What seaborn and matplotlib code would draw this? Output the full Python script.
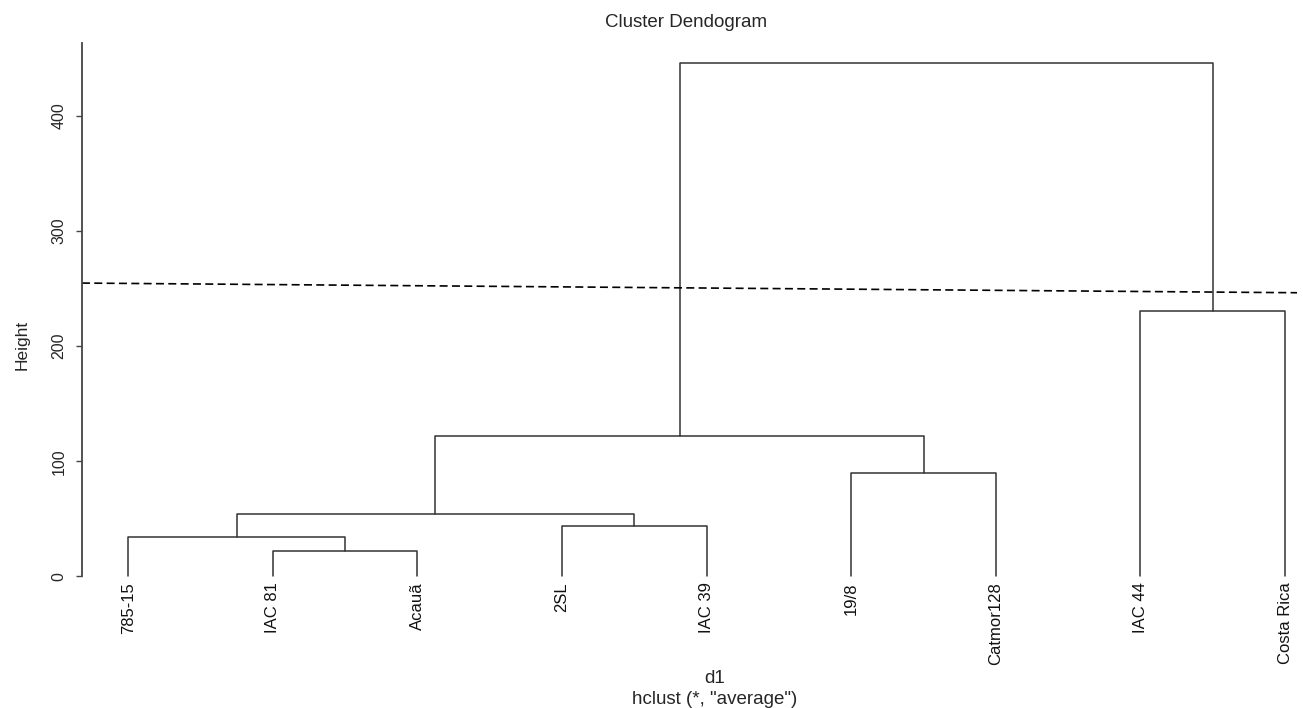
#!/usr/bin/env python
# coding: utf8

""" Cluster dendrogram (hclust, average linkage) redrawn with seaborn. """

import numpy as np
import pandas as pd
import seaborn as sns
from matplotlib import pyplot as plt

# leaves in plotting order
leaves = ['785-15', 'IAC 81', 'Acauã', '2SL', 'IAC 39',
          '19/8', 'Catmor128', 'IAC 44', 'Costa Rica']

# merge steps, R style: negative = leaf number, positive = earlier step
merge_left = [-2, -1, -4, 2, -6, 4, -8, 6]
merge_right = [-3, 1, -5, 3, -7, 5, -9, 7]
merge_height = [21.7, 34.1, 43.4, 54.0, 89.7, 122.1, 230.7, 445.3]

# dashed cut line (slightly tilted in the original)
cut_start, cut_end = 254.7, 246.3

y_ticks = [0, 100, 200, 300, 400]


def node_pos(k, done):
    if k < 0:
        return -k, 0.0
    return done[k - 1]


# build the U shaped segments
rows = []
done = []
for i, (a, b, h) in enumerate(zip(merge_left, merge_right, merge_height)):
    xa, ha = node_pos(a, done)
    xb, hb = node_pos(b, done)
    for x, y in [(xa, ha), (xa, h), (xb, h), (xb, hb)]:
        rows.append({'x': x, 'y': y, 'seg': i})
    done.append(((xa + xb) / 2, h))
seg_df = pd.DataFrame(rows)

sns.set_style('white')
plt.rcParams['font.family'] = ['Liberation Sans', 'DejaVu Sans']

fig = plt.figure(figsize=(13.03, 7.08), dpi=100)
ax = fig.add_axes([0.0629, 0.1568, 0.9325, 0.7825])

n = len(leaves)
pad_y = 0.04 * max(merge_height)
ax.set_xlim(1 - 0.04 * (n - 1), 9.083)
ax.set_ylim(-pad_y, max(merge_height) + pad_y)

sns.lineplot(data=seg_df, x='x', y='y', units='seg', estimator=None, sort=False,
             color='#333333', lw=1.1, ax=ax)

xl = ax.get_xlim()
cut_df = pd.DataFrame({'x': list(xl), 'y': [cut_start, cut_end]})
sns.lineplot(data=cut_df, x='x', y='y', color='black', lw=1.2,
             dashes=False, ax=ax)
ax.lines[-1].set_dashes((4.8, 2.6))

# leaf labels hanging below zero
for i, lab in enumerate(leaves):
    ax.annotate(lab, (i + 1, 0), xytext=(0, -4), textcoords='offset points',
                rotation=90, ha='center', va='top', fontsize=12, color='#111111')

for s in ['top', 'right', 'bottom']:
    ax.spines[s].set_visible(False)
ax.spines['left'].set_bounds(0, ax.get_ylim()[1])
ax.spines['left'].set_color('#444444')
ax.spines['left'].set_linewidth(1.3)

ax.set_xticks([])
ax.set_yticks(y_ticks)
ax.set_yticklabels([str(t) for t in y_ticks], rotation=90, va='center', fontsize=11.5)
ax.tick_params(axis='y', left=True, length=4, width=1, color='#444444', pad=7)
ax.set_xlabel('')
ax.set_ylabel('')

fig.text(22 / 1303, 1 - 345 / 708, 'Height', rotation=90, ha='center', va='center',
         fontsize=12.5)
fig.text(686 / 1303, 1 - 27 / 708, 'Cluster Dendogram', ha='center', va='baseline',
         fontsize=13.5)
fig.text(715 / 1303, 1 - 683 / 708, 'd1', ha='center', va='baseline', fontsize=13.5)
fig.text(715 / 1303, 1 - 704 / 708, 'hclust (*, "average")', ha='center', va='baseline',
         fontsize=13.5)

plt.savefig('out.png', dpi=100)
plt.close()
